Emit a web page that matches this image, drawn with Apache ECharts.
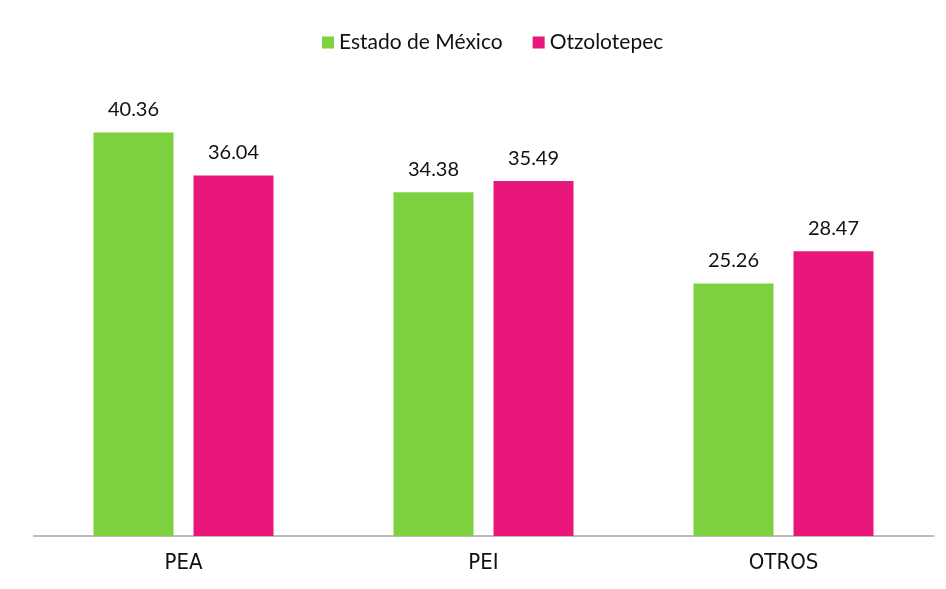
<!DOCTYPE html>
<html><head><meta charset="utf-8">
<script src="https://cdn.jsdelivr.net/npm/echarts@6/dist/echarts.min.js"></script>
<style>html,body{margin:0;padding:0;background:#fff}#c{width:946px;height:589px}</style>
</head><body><div id="c"></div>
<script>
const categories = ['PEA', 'PEI', 'OTROS'];
const estadoMexico = [40.36, 34.38, 25.26];
const otzolotepec = [36.04, 35.49, 28.47];
const seriesNames = ['Estado de México', 'Otzolotepec'];

const chart = echarts.init(document.getElementById('c'));
const labelStyle = {show: true, position: 'top', distance: 13, color: '#111', fontSize: 20, fontFamily: 'Lato', formatter: p => p.value.toFixed(2)};
chart.setOption({
  animation: false,
  legend: {
    top: 27, left: 317, itemWidth: 12, itemHeight: 12, itemGap: 30,
    icon: 'rect',
    textStyle: {fontSize: 21, color: '#111', fontFamily: 'Lato'},
    data: seriesNames
  },
  grid: {left: 33.5, right: 12.5, top: 36, bottom: 53},
  xAxis: {
    type: 'category', data: categories,
    axisLine: {lineStyle: {color: '#a6a6a6', width: 1.5}},
    axisTick: {show: false},
    axisLabel: {fontSize: 22, color: '#111', margin: 16, fontFamily: 'DejaVu Sans Condensed'}
  },
  yAxis: {type: 'value', min: 0, max: 50, show: false, splitLine: {show: false}},
  series: [
    {name: seriesNames[0], type: 'bar', data: estadoMexico, barWidth: 80, barGap: '25%',
     itemStyle: {color: '#7ed13e'}, label: labelStyle},
    {name: seriesNames[1], type: 'bar', data: otzolotepec, barWidth: 80,
     itemStyle: {color: '#ea177b'}, label: labelStyle}
  ]
});
</script></body></html>
